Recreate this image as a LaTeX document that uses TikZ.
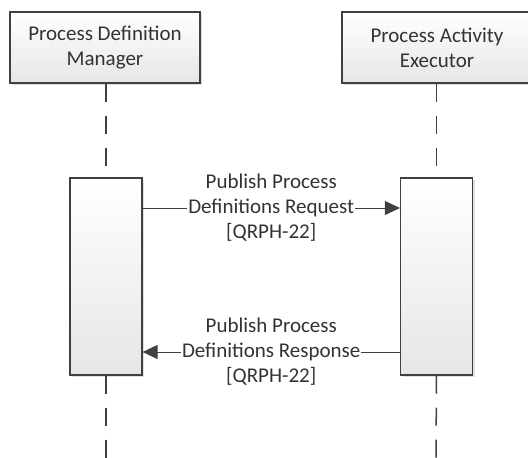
\documentclass[tikz,border=0pt]{standalone}
\usepackage{fontspec}
\setmainfont{Carlito}
\usetikzlibrary{arrows.meta,shadows}
\definecolor{ln}{HTML}{404040}
\definecolor{tx}{HTML}{333333}
\definecolor{gb}{HTML}{E6E6E6}
\begin{document}
\begin{tikzpicture}[x=1pt,y=-1pt,
  every node/.style={font=\fontsize{21}{25}\selectfont, text=tx},
  hdr/.style={draw=ln, line width=1.2pt, top color=white, bottom color=gb, drop shadow={shadow xshift=2pt, shadow yshift=-2pt, fill=black!25}, minimum width=190pt, minimum height=71pt, align=center, inner sep=0pt},
  act/.style={draw=ln, line width=1.2pt, top color=white, bottom color=gb, drop shadow={shadow xshift=2pt, shadow yshift=-2pt, fill=black!25}, minimum width=72pt, minimum height=197pt, inner sep=0pt},
  life/.style={draw=ln, line width=1.5pt, dash pattern=on 18pt off 14pt},
  msg/.style={draw=ln, line width=1pt, -{Triangle[length=15pt,width=14pt]}},
  lbl/.style={fill=white, align=center, inner sep=1pt}]
\useasboundingbox (0,0) rectangle (528,458);
\begin{scope}
\clip (0,0) rectangle (528,458);
\node[hdr] (pdm) at (105,47.5) {\fontsize{21}{27}\selectfont Process Definition\\Manager};
\node[hdr] (pae) at (437,47.5) {\fontsize{21}{27}\selectfont Process Activity\\Executor};
\coordinate (l1) at (106,458);
\coordinate (r1) at (436,458);
\node[act] (al) at (106,276.5) {};
\node[act] (ar) at (436.5,276.5) {};
\draw[life] (pdm.south -| al.center) -- (al.north);
\draw[life] (pae.south -| ar.center) -- (ar.north);
\draw[life] (al.south) -- (l1);
\draw[life] (ar.south) -- (r1);
\coordinate (req) at (0,208);
\coordinate (rsp) at (0,352);
\draw[msg] (al.east |- req) -- (ar.west |- req) node[lbl, midway] (t1) {Publish Process\\Definitions Request\\{}[QRPH-22]};
\draw[msg] (ar.west |- rsp) -- (al.east |- rsp) node[lbl, midway] (t2) {Publish Process\\Definitions Response\\{}[QRPH-22]};
\end{scope}
\end{tikzpicture}
\end{document}
